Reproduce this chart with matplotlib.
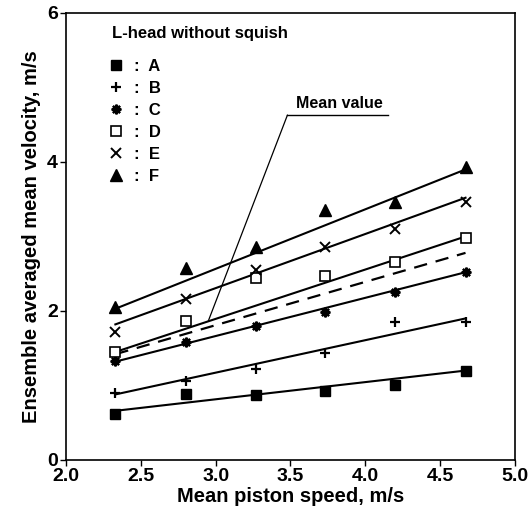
import matplotlib
matplotlib.use("Agg")
import matplotlib.pyplot as plt

plt.rcParams['font.family'] = ['Liberation Sans', 'DejaVu Sans']

# mean piston speed, m/s
piston_speed = [2.33, 2.80, 3.27, 3.73, 4.20, 4.67]

# measured ensemble averaged mean velocity, m/s
vel_A = [0.62, 0.89, 0.87, 0.93, 1.01, 1.20]
vel_B = [0.90, 1.06, 1.22, 1.44, 1.85, 1.85]
vel_C = [1.33, 1.58, 1.80, 1.98, 2.26, 2.52]
vel_D = [1.45, 1.87, 2.44, 2.47, 2.66, 2.98]
vel_E = [1.72, 2.16, 2.55, 2.86, 3.10, 3.46]
vel_F = [2.05, 2.58, 2.86, 3.36, 3.46, 3.93]

# fitted lines (end points at first and last piston speed)
fit_x = [2.33, 4.67]
fit_A = [0.66, 1.20]
fit_B = [0.88, 1.90]
fit_C = [1.32, 2.52]
fit_D = [1.45, 3.00]
fit_E = [1.82, 3.52]
fit_F = [2.03, 3.90]
fit_mean = [1.42, 2.78]

labels = ['A', 'B', 'C', 'D', 'E', 'F']

fig = plt.figure(figsize=(5.30, 5.19), dpi=100)
ax = fig.add_axes([0.1245, 0.1137, 0.847, 0.8613])

series = [
    (vel_A, fit_A, dict(marker='s', markersize=6.5, markerfacecolor='black', markeredgecolor='black')),
    (vel_B, fit_B, dict(marker='+', markersize=7.5, markeredgewidth=1.6, color='black')),
    (vel_C, fit_C, dict(marker=(8, 2, 0), markersize=7, markeredgewidth=1.6, color='black')),
    (vel_D, fit_D, dict(marker='s', markersize=7, markerfacecolor='white', markeredgecolor='black', markeredgewidth=1.2)),
    (vel_E, fit_E, dict(marker='x', markersize=7, markeredgewidth=1.4, color='black')),
    (vel_F, fit_F, dict(marker='^', markersize=8, markerfacecolor='black', markeredgecolor='black')),
]

handles = []
for vals, fit, style in series:
    ax.plot(fit_x, fit, color='black', lw=1.5, zorder=2)
    h, = ax.plot(piston_speed, vals, linestyle='none', zorder=3, **style)
    handles.append(h)

ax.plot(fit_x, fit_mean, color='black', lw=1.6, dashes=(6, 4), zorder=2)

# "Mean value" callout: leader, underline and text
ax.annotate('', xy=(2.95, 1.86), xytext=(3.48, 4.63),
            arrowprops=dict(arrowstyle='-', color='black', lw=0.9, shrinkA=0, shrinkB=0))
ax.plot([3.48, 4.15], [4.63, 4.63], color='black', lw=1.0)
ax.text(3.54, 4.69, 'Mean value', fontsize=11.5, fontweight='bold', ha='left', va='bottom')

ax.text(0.102, 0.953, 'L-head without squish', transform=ax.transAxes,
        fontsize=12, fontweight='bold', ha='left', va='center')
leg = ax.legend(handles, [':  ' + l for l in labels], loc='upper left',
                bbox_to_anchor=(0.092, 0.897), frameon=False,
                fontsize=12, handlelength=1.0, handletextpad=0.6,
                labelspacing=0.42, borderpad=0.0, borderaxespad=0.0)
for t in leg.get_texts():
    t.set_fontweight('bold')

ax.set_xlim(2.0, 5.0)
ax.set_ylim(0, 6)
ax.set_xticks([2.0, 2.5, 3.0, 3.5, 4.0, 4.5, 5.0])
ax.set_xticklabels(['2.0', '2.5', '3.0', '3.5', '4.0', '4.5', '5.0'])
ax.set_yticks([0, 2, 4, 6])
ax.tick_params(direction='out', length=4, width=1, labelsize=14, colors='black', pad=2)
for t in ax.get_xticklabels() + ax.get_yticklabels():
    t.set_fontweight('bold')
for s in ax.spines.values():
    s.set_linewidth(1.2)

ax.set_xlabel('Mean piston speed, m/s', fontsize=14.5, fontweight='bold', labelpad=1)
ax.set_ylabel('Ensemble averaged mean velocity, m/s', fontsize=14.5, fontweight='bold', labelpad=4)

fig.savefig('out.png', dpi=100)
